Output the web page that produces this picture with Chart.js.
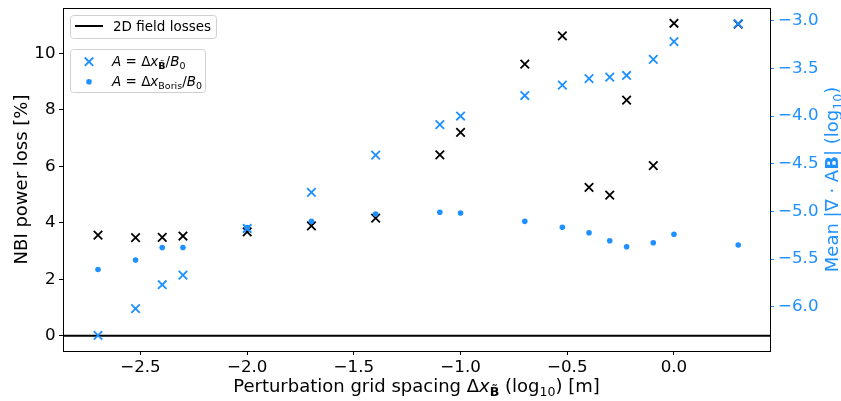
<!DOCTYPE html>
<html><head><meta charset="utf-8">
<script src="https://cdn.jsdelivr.net/npm/chart.js@4/dist/chart.umd.min.js"></script>
<style>html,body{margin:0;padding:0;background:#fff}canvas{display:block}</style>
</head><body>
<canvas id="c" width="841" height="401"></canvas>
<script>
// ---- data (log10 grid spacing in m) ----
const gridSpacing = [-2.699,-2.523,-2.398,-2.301,-2.0,-1.699,-1.398,-1.097,-1.0,-0.699,-0.523,-0.398,-0.301,-0.222,-0.097,0.0,0.301];
const nbiLoss     = [3.56,3.47,3.48,3.53,3.68,3.89,4.16,6.40,7.20,9.61,10.61,5.25,4.98,8.34,6.02,11.06,11.03];
const divBPert    = [-6.30,-6.02,-5.77,-5.67,-5.18,-4.80,-4.41,-4.09,-4.00,-3.785,-3.677,-3.607,-3.593,-3.575,-3.406,-3.22,-3.03];
const divBBoris   = [-5.61,-5.51,-5.38,-5.38,-5.17,-5.105,-5.028,-5.01,-5.018,-5.105,-5.168,-5.224,-5.308,-5.371,-5.329,-5.241,-5.353];
const field2DLoss = 0;
const xTicks    = [-2.5,-2.0,-1.5,-1.0,-0.5,0.0];
const lossTicks = [0,2,4,6,8,10];
const divTicks  = [-6.0,-5.5,-5.0,-4.5,-4.0,-3.5,-3.0];
const xRange    = [-2.863, 0.45];
const lossRange = [-0.54, 11.6];
const divRange  = [-6.465, -2.867];

const BLUE = '#1E90FF';
const FAM = '"DejaVu Sans", sans-serif';
const TITLE = 18, SUBT = 12.6, LEG = 13.5, SUBL = 9.5;
const fmt = (v, d) => { const s = Number(v).toFixed(d); return s.replace('-', '\u2212'); };

function fontOf(p, base) { return `${p.st || ''} ${p.s || base}px ${FAM}`; }
function drawRich(ctx, parts, x, y, rot, align, base, color) {
  ctx.save();
  ctx.translate(x, y);
  if (rot) ctx.rotate(rot);
  ctx.textAlign = 'left'; ctx.textBaseline = 'alphabetic';
  let w = 0;
  const ws = parts.map(p => { ctx.font = fontOf(p, base); const m = ctx.measureText(p.t).width; w += m; return m; });
  let cx = align === 'left' ? 0 : -w / 2;
  parts.forEach((p, i) => {
    ctx.font = fontOf(p, base);
    ctx.fillStyle = color;
    ctx.fillText(p.t, cx, p.dy || 0);
    cx += ws[i];
  });
  ctx.restore();
}
function roundBox(ctx, x, y, w, h, r) {
  ctx.beginPath();
  ctx.moveTo(x + r, y);
  ctx.lineTo(x + w - r, y); ctx.arcTo(x + w, y, x + w, y + r, r);
  ctx.lineTo(x + w, y + h - r); ctx.arcTo(x + w, y + h, x + w - r, y + h, r);
  ctx.lineTo(x + r, y + h); ctx.arcTo(x, y + h, x, y + h - r, r);
  ctx.lineTo(x, y + r); ctx.arcTo(x, y, x + r, y, r);
  ctx.closePath();
  ctx.fillStyle = 'rgba(255,255,255,0.8)'; ctx.fill();
  ctx.strokeStyle = '#d0d0d0'; ctx.lineWidth = 1; ctx.stroke();
}
function drawX(ctx, x, y, h, color, lw) {
  ctx.save(); ctx.strokeStyle = color; ctx.lineWidth = lw;
  ctx.beginPath(); ctx.moveTo(x - h, y - h); ctx.lineTo(x + h, y + h);
  ctx.moveTo(x - h, y + h); ctx.lineTo(x + h, y - h); ctx.stroke(); ctx.restore();
}

const decor = {
  id: 'decor',
  afterDatasetsDraw(chart) {
    const ctx = chart.ctx, a = chart.chartArea;
    ctx.save();
    ctx.strokeStyle = '#000'; ctx.lineWidth = 1;
    ctx.strokeRect(a.left + 0.5, a.top + 0.5, a.right - a.left, a.bottom - a.top);
    // legend 1
    roundBox(ctx, 70.5, 15.5, 146, 23, 3);
    ctx.strokeStyle = '#000'; ctx.lineWidth = 2;
    ctx.beginPath(); ctx.moveTo(75, 26); ctx.lineTo(103, 26); ctx.stroke();
    drawRich(ctx, [{t: chart.data.datasets[0].label}], 113, 30.8, 0, 'left', LEG, '#000');
    // legend 2
    roundBox(ctx, 70.5, 49.5, 135, 43, 3);
    drawX(ctx, 89, 61.7, 4.2, BLUE, 1.8);
    ctx.fillStyle = BLUE; ctx.beginPath(); ctx.arc(89, 81.7, 2.8, 0, Math.PI * 2); ctx.fill();
    drawRich(ctx, [{t:'A', st:'italic'}, {t:' = Δ'}, {t:'x', st:'italic'}, {t:'B\u0303', st:'bold', s:SUBL, dy:3}, {t:'/'}, {t:'B', st:'italic'}, {t:'0', s:SUBL, dy:3}], 112, 66, 0, 'left', LEG, '#000');
    drawRich(ctx, [{t:'A', st:'italic'}, {t:' = Δ'}, {t:'x', st:'italic'}, {t:'Boris', s:SUBL, dy:3}, {t:'/'}, {t:'B', st:'italic'}, {t:'0', s:SUBL, dy:3}], 112, 86, 0, 'left', LEG, '#000');
    // axis titles
    const cxm = (a.left + a.right) / 2, cym = (a.top + a.bottom) / 2;
    drawRich(ctx, [{t:'Perturbation grid spacing Δ'}, {t:'x', st:'italic'}, {t:'B\u0303', st:'bold', s:SUBT, dy:4}, {t:' (log'}, {t:'10', s:SUBT, dy:4}, {t:') [m]'}], cxm, 391.5, 0, 'center', TITLE, '#000');
    drawRich(ctx, [{t:'NBI power loss [%]'}], 27, cym, -Math.PI / 2, 'center', TITLE, '#000');
    drawRich(ctx, [{t:'Mean |∇ · A'}, {t:'B', st:'bold'}, {t:'| (log'}, {t:'10', s:SUBT, dy:4}, {t:')'}], 837.5, cym, -Math.PI / 2, 'center', TITLE, BLUE);
    ctx.restore();
  }
};

const tickFont = {family: FAM, size: 16.7};
const noPadV = s => { s.paddingTop = 0; s.paddingBottom = 0; };
new Chart(document.getElementById('c'), {
  type: 'scatter',
  data: {
    datasets: [
      {label: '2D field losses', type: 'line', data: xRange.map(x => ({x, y: field2DLoss})), borderColor: '#000', borderWidth: 2, pointRadius: 0, yAxisID: 'y', order: 4},
      {label: 'NBI power loss', data: gridSpacing.map((x, i) => ({x, y: nbiLoss[i]})), pointStyle: 'crossRot', pointRadius: 6, borderColor: '#000', borderWidth: 1.8, yAxisID: 'y', order: 3},
      {label: 'A = Δx_B/B0', data: gridSpacing.map((x, i) => ({x, y: divBPert[i]})), pointStyle: 'crossRot', pointRadius: 6, borderColor: BLUE, borderWidth: 1.8, yAxisID: 'y1', order: 2},
      {label: 'A = Δx_Boris/B0', data: gridSpacing.map((x, i) => ({x, y: divBBoris[i]})), pointStyle: 'circle', pointRadius: 2.8, backgroundColor: BLUE, borderColor: BLUE, borderWidth: 0, yAxisID: 'y1', order: 1}
    ]
  },
  options: {
    responsive: false, animation: false, events: [],
    layout: {padding: {top: 8, left: 0, right: 0, bottom: 0}},
    plugins: {legend: {display: false}, tooltip: {enabled: false}},
    scales: {
      x: {
        type: 'linear', position: 'bottom', min: xRange[0], max: xRange[1],
        afterFit: s => { s.height = 50; s.paddingLeft = 0; s.paddingRight = 0; },
        afterBuildTicks: s => { s.ticks = xTicks.map(v => ({value: v})); },
        ticks: {callback: v => fmt(v, 1), font: tickFont, color: '#000', padding: 3, maxRotation: 0, autoSkip: false},
        grid: {drawOnChartArea: false, drawTicks: true, tickLength: 4, color: '#000', tickColor: '#000'},
        border: {display: false}
      },
      y: {
        type: 'linear', position: 'left', min: lossRange[0], max: lossRange[1],
        afterFit: s => { s.width = 63; noPadV(s); },
        afterBuildTicks: s => { s.ticks = lossTicks.map(v => ({value: v})); },
        ticks: {callback: v => fmt(v, 0), font: tickFont, color: '#000', padding: 3.5, autoSkip: false},
        grid: {drawOnChartArea: false, drawTicks: true, tickLength: 4, color: '#000', tickColor: '#000'},
        border: {display: false}
      },
      y1: {
        type: 'linear', position: 'right', min: divRange[0], max: divRange[1],
        afterFit: s => { s.width = 71; noPadV(s); },
        afterBuildTicks: s => { s.ticks = divTicks.map(v => ({value: v})); },
        ticks: {callback: v => fmt(v, 1), font: tickFont, color: BLUE, padding: 4, autoSkip: false},
        grid: {drawOnChartArea: false, drawTicks: true, tickLength: 4, color: BLUE, tickColor: BLUE},
        border: {display: false}
      }
    }
  },
  plugins: [decor]
});
</script>
</body></html>
